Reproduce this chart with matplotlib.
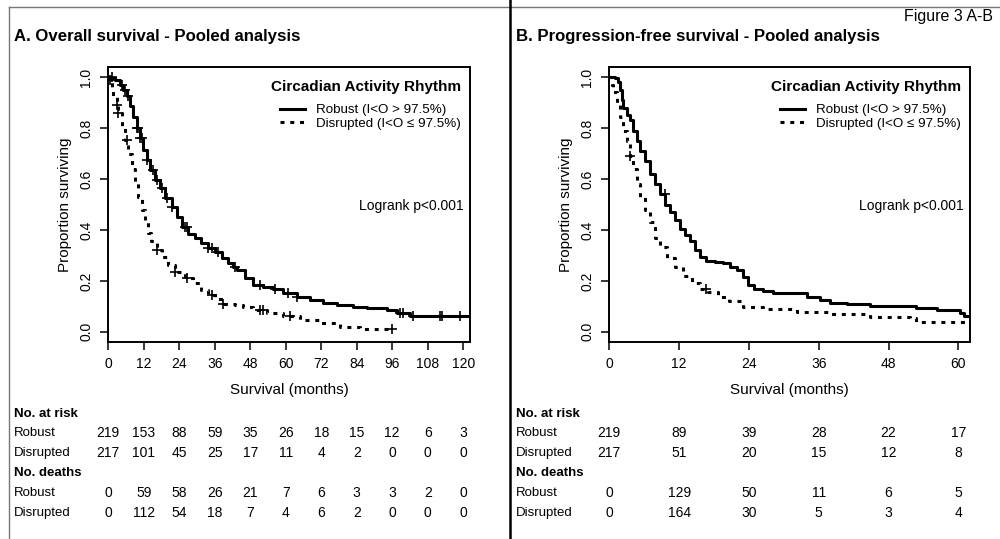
import numpy as np
import matplotlib
matplotlib.use("Agg")
import matplotlib.pyplot as plt
from matplotlib.lines import Line2D
from matplotlib.transforms import blended_transform_factory

plt.rcParams['font.family'] = ['Liberation Sans', 'DejaVu Sans']

# ---- Panel A: overall survival (Kaplan-Meier steps)
a_rob_t = [0, 1.2, 2.3, 3.9, 5.1, 6.2, 7.3, 8.5, 9.6, 10.7, 11.8, 13.0, 14.1, 15.8, 17.5, 19.2,
           21.4, 23.1, 24.8, 27.0, 29.3, 31.5, 33.8, 36.1, 38.3, 40.6, 42.3, 43.4, 46.2, 49.0,
           52.4, 55.8, 59.2, 63.7, 68.2, 72.7, 77.2, 82.8, 87.4, 94.1, 97.5, 102]
a_rob_s = [1.0, 0.995, 0.99, 0.97, 0.95, 0.925, 0.885, 0.845, 0.80, 0.76, 0.715, 0.675, 0.635,
           0.596, 0.564, 0.525, 0.49, 0.45, 0.41, 0.385, 0.367, 0.347, 0.328, 0.315, 0.289,
           0.269, 0.256, 0.243, 0.21, 0.184, 0.177, 0.167, 0.153, 0.138, 0.125, 0.114, 0.105,
           0.098, 0.092, 0.085, 0.072, 0.062]
a_rob_end = 122
a_rob_cens = [1.1, 4.5, 5.6, 6.8, 9.6, 10.1, 10.7, 11.3, 13.0, 15.2, 16.3, 18.0, 19.7, 21.4,
              25.9, 26.5, 33.8, 34.9, 37.2, 42.8, 51.3, 56.4, 60.9, 63.7, 98.6, 99.8, 103.1,
              112.1, 112.7, 118.9]

a_dis_t = [0, 0.6, 1.1, 1.7, 2.8, 3.4, 4.5, 5.6, 6.8, 7.9, 9.0, 10.1, 11.3, 12.4, 13.5, 14.6,
           16.3, 18.0, 20.3, 22.5, 25.9, 28.7, 31.5, 33.8, 36.1, 38.9, 42.8, 45.6, 49.0, 53.5,
           59.2, 64.8, 71.6, 78.4, 85.1]
a_dis_s = [1.0, 0.99, 0.95, 0.925, 0.89, 0.86, 0.81, 0.755, 0.70, 0.64, 0.585, 0.53, 0.48,
           0.43, 0.39, 0.355, 0.32, 0.295, 0.262, 0.236, 0.21, 0.19, 0.164, 0.144, 0.127,
           0.111, 0.105, 0.098, 0.085, 0.072, 0.062, 0.046, 0.033, 0.020, 0.013]
a_dis_end = 95.8
a_dis_cens = [0.6, 2.8, 3.4, 6.2, 16.3, 22.5, 26.5, 34.9, 38.9, 51.3, 52.4, 61.4, 95.8]

a_ticks = [0, 12, 24, 36, 48, 60, 72, 84, 96, 108, 120]
a_risk_rob = [219, 153, 88, 59, 35, 26, 18, 15, 12, 6, 3]
a_risk_dis = [217, 101, 45, 25, 17, 11, 4, 2, 0, 0, 0]
a_death_rob = [0, 59, 58, 26, 21, 7, 6, 3, 3, 2, 0]
a_death_dis = [0, 112, 54, 18, 7, 4, 6, 2, 0, 0, 0]

# ---- Panel B: progression-free survival
b_rob_t = [0, 1.0, 1.5, 1.8, 2.1, 2.4, 3.0, 3.55, 4.1, 4.7, 5.3, 6.1, 7.0, 7.9, 8.7, 9.6,
           10.4, 11.3, 12.1, 13.0, 13.9, 14.7, 15.6, 16.7, 18.2, 19.6, 20.7, 21.9, 23.0, 23.9,
           24.8, 26.5, 28.2, 33.9, 36.2, 37.9, 40.8, 44.8, 52.8, 56.3, 60.3, 60.9]
b_rob_s = [1.0, 0.996, 0.98, 0.95, 0.91, 0.88, 0.85, 0.83, 0.79, 0.75, 0.71, 0.67, 0.62, 0.58,
           0.54, 0.50, 0.47, 0.44, 0.405, 0.38, 0.355, 0.32, 0.295, 0.28, 0.275, 0.27, 0.255,
           0.243, 0.216, 0.184, 0.17, 0.161, 0.151, 0.138, 0.125, 0.114, 0.108, 0.101, 0.092,
           0.085, 0.072, 0.063]
b_rob_end = 62
b_rob_cens = [9.5]

b_dis_t = [0, 0.4, 0.7, 1.3, 1.8, 2.4, 3.0, 3.55, 4.1, 4.7, 5.3, 6.1, 7.0, 7.9, 8.7, 9.9,
           11.3, 12.7, 14.2, 15.6, 17.0, 18.7, 20.5, 23.0, 26.5, 32.2, 37.9, 44.8, 51.7, 52.8]
b_dis_s = [1.0, 0.97, 0.94, 0.90, 0.845, 0.79, 0.75, 0.69, 0.64, 0.58, 0.53, 0.48, 0.43, 0.37,
           0.335, 0.29, 0.255, 0.22, 0.19, 0.17, 0.157, 0.138, 0.12, 0.096, 0.088, 0.079,
           0.068, 0.059, 0.053, 0.037]
b_dis_end = 62
b_dis_cens = [3.55, 16.7]

b_ticks = [0, 12, 24, 36, 48, 60]
b_risk_rob = [219, 89, 39, 28, 22, 17]
b_risk_dis = [217, 51, 20, 15, 12, 8]
b_death_rob = [0, 129, 50, 11, 6, 5]
b_death_dis = [0, 164, 30, 5, 3, 4]

legend_labels = ['Robust (I<O > 97.5%)', 'Disrupted (I<O ≤ 97.5%)']

fig = plt.figure(figsize=(10, 5.39), dpi=100)
W, H = 1000, 539


def km(ax, t, s, end, cens, ls, label):
    tt = list(t) + [end]
    ss = list(s) + [s[-1]]
    if ls == 'solid':
        line, = ax.step(tt, ss, where='post', color='black', lw=2.2, label=label)
    else:
        line, = ax.step(tt, ss, where='post', color='black', lw=2.2, label=label,
                        linestyle=(0, (1.3, 1.9)))
    idx = np.searchsorted(t, cens, side='right') - 1
    cy = np.array(s)[idx]
    ax.plot(cens, cy, linestyle='none', marker='+', color='black', ms=7.5, mew=1.2)
    return line


def panel(left_px, right_px, xmax, ticks, rob, dis, title, title_x, table, label_x):
    ax = fig.add_axes([left_px / W, 1 - 342 / H, (right_px - left_px) / W, (342 - 67) / H])
    h1 = km(ax, *rob, 'solid', legend_labels[0])
    h2 = km(ax, *dis, 'dashed', legend_labels[1])
    ax.set_xlim(0, xmax)
    ax.set_ylim(-0.04, 1.04)
    ax.set_xticks(ticks)
    ax.set_yticks([0, 0.2, 0.4, 0.6, 0.8, 1.0])
    ax.set_yticklabels(['0.0', '0.2', '0.4', '0.6', '0.8', '1.0'], rotation=90, va='center')
    ax.tick_params(direction='out', length=6, width=1.1, labelsize=10, pad=5)
    for sp in ax.spines.values():
        sp.set_linewidth(1.4)
    ax.set_xlabel('Survival (months)', fontsize=11)
    ax.xaxis.set_label_coords(0.5, -0.148)
    ax.text(-0.12, 0.5, 'Proportion surviving', transform=ax.transAxes, rotation=90,
            ha='center', va='center', fontsize=11)
    leg = ax.legend(handles=[h1, h2], loc='upper right', frameon=False, fontsize=9.6,
                    title='Circadian Activity Rhythm', handlelength=1.9, handletextpad=0.83,
                    borderaxespad=0.25, labelspacing=0.1, bbox_to_anchor=(1.0, 0.983))
    leg.get_title().set_fontweight('bold')
    leg.get_title().set_fontsize(11)
    leg._legend_box.sep = 7
    leg._legend_box.align = 'right'
    ax.text(0.981, 0.4945, 'Logrank p<0.001', transform=ax.transAxes, ha='right',
            va='center', fontsize=10)
    fig.text(title_x / W, 1 - 37 / H, title, fontsize=12.1, fontweight='bold', va='center')

    tr = blended_transform_factory(ax.transData, fig.transFigure)
    rows = [('No. at risk', None, 414), ('Robust', table[0], 433), ('Disrupted', table[1], 453),
            ('No. deaths', None, 473), ('Robust', table[2], 493), ('Disrupted', table[3], 513)]
    for name, vals, ypx in rows:
        y = 1 - ypx / H
        if vals is None:
            fig.text(label_x / W, y, name, fontsize=9.5, fontweight='bold', va='center')
        else:
            fig.text(label_x / W, y, name, fontsize=9.5, va='center')
            for xt, v in zip(ticks, vals):
                ax.text(xt, y, str(v), transform=tr, ha='center', va='center', fontsize=10,
                        clip_on=False)
    return ax


panel(108.3, 470, 122.3, a_ticks,
      (a_rob_t, a_rob_s, a_rob_end, a_rob_cens), (a_dis_t, a_dis_s, a_dis_end, a_dis_cens),
      'A. Overall survival - Pooled analysis', 14,
      (a_risk_rob, a_risk_dis, a_death_rob, a_death_dis), 14)
panel(609.3, 970, 62.0, b_ticks,
      (b_rob_t, b_rob_s, b_rob_end, b_rob_cens), (b_dis_t, b_dis_s, b_dis_end, b_dis_cens),
      'B. Progression-free survival - Pooled analysis', 516,
      (b_risk_rob, b_risk_dis, b_death_rob, b_death_dis), 516)

fig.text(993 / W, 1 - 17 / H, 'Figure 3 A-B', ha='right', va='center', fontsize=11.5)

# frame lines
fig.add_artist(Line2D([9 / W, 1], [1 - 7 / H, 1 - 7 / H], color='#777777', lw=1.0,
                      transform=fig.transFigure))
fig.add_artist(Line2D([9 / W, 9 / W], [0, 1 - 7 / H], color='#777777', lw=1.0,
                      transform=fig.transFigure))
fig.add_artist(Line2D([510 / W, 510 / W], [0, 1], color='black', lw=1.8,
                      transform=fig.transFigure))

fig.savefig('out.png', dpi=100)
